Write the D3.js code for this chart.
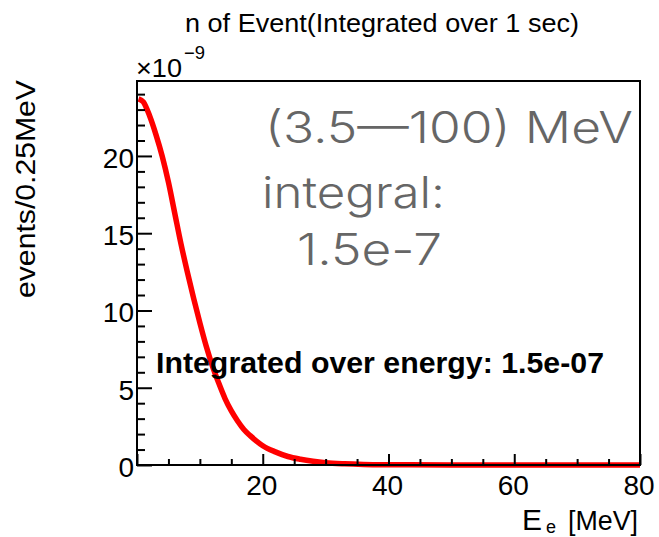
<!DOCTYPE html>
<html>
<head>
<meta charset="utf-8">
<script src="https://cdn.jsdelivr.net/npm/d3@7"></script>
<style>
  html, body { margin: 0; padding: 0; background: #fff; }
  svg { display: block; }
  .lbl { font-family: "Liberation Sans", Arial, Helvetica, sans-serif; fill: #000; }
  .note { font-family: Inter, "Noto Sans", Lato, sans-serif; font-weight: 300; fill: #666; }
</style>
</head>
<body>
<svg id="chart" width="659" height="537"></svg>
<script>
// Electron energy spectrum, events per 0.25 MeV bin (units of 1e-9)
const energyMeV = [0.25, 1, 2, 3, 4, 5, 6, 7, 8, 9, 10, 11, 12, 13, 14, 15, 16, 17, 18, 19, 20,
                   22, 24, 26, 28, 30, 33, 36, 40, 50, 60, 80];
const eventsPerBin = [23.7, 23.5, 22.6, 21.4, 20.0, 18.3, 16.3, 14.3, 12.5, 10.8, 9.2, 7.7, 6.4, 5.3, 4.3, 3.5, 2.85, 2.3, 1.9, 1.55, 1.25,
                      0.85, 0.55, 0.37, 0.24, 0.15, 0.08, 0.04, 0.02, 0.005, 0.001, 0];

const xTickValues = [20, 40, 60, 80];
const yTickValues = [0, 5, 10, 15, 20];
const xDomain = [0, 80];
const yDomain = [0, 24.85];

const titleText = "n of Event(Integrated over 1 sec)";
const yTitleText = "events/0.25MeV";
const noteLines = ["(3.5\u2014100) MeV", "integral:", "1.5e-7"];
const integralText = "Integrated over energy: 1.5e-07";

const svg = d3.select("#chart");
const frame = { left: 137, right: 640, top: 81, bottom: 465 };

const x = d3.scaleLinear().domain(xDomain).range([frame.left, frame.right]);
const y = d3.scaleLinear().domain(yDomain).range([frame.bottom, frame.top]);

svg.append("rect").attr("width", 659).attr("height", 537).attr("fill", "#fff");

// Spectrum curve
const line = d3.line()
  .x((d, i) => x(energyMeV[i]))
  .y(d => y(d))
  .curve(d3.curveMonotoneX);

svg.append("path")
  .datum(eventsPerBin)
  .attr("d", line)
  .attr("fill", "none")
  .attr("stroke", "#ff0000")
  .attr("stroke-width", 5.5)
  .attr("stroke-linejoin", "round");

// Grey annotation block
const notes = svg.append("g").attr("class", "note").attr("font-size", 43);
const notePos = [
  { x: 265, y: 143, w: 368 },
  { x: 262, y: 208, w: 183 },
  { x: 297, y: 265, w: 145 }
];
noteLines.forEach((t, i) => {
  notes.append("text")
    .attr("x", notePos[i].x).attr("y", notePos[i].y)
    .attr("textLength", notePos[i].w)
    .attr("lengthAdjust", "spacingAndGlyphs")
    .text(t);
});

// Bold integral statement
svg.append("text")
  .attr("class", "lbl")
  .attr("x", 156).attr("y", 373)
  .attr("font-size", 30).attr("font-weight", "bold")
  .attr("textLength", 448).attr("lengthAdjust", "spacingAndGlyphs")
  .text(integralText);

// Axes (ticks drawn inward)
const xAxis = d3.axisTop(x)
  .tickValues(d3.range(0, 80.001, 5))
  .tickSize(6).tickFormat("");
const gx = svg.append("g").attr("transform", `translate(0,${frame.bottom})`).call(xAxis);
gx.selectAll(".tick line")
  .attr("y2", d => (d % 20 === 0 ? -11 : -6))
  .attr("stroke", "#000").attr("stroke-width", 2);
gx.select(".domain").remove();

const yAxis = d3.axisRight(y)
  .tickValues(d3.range(0, 24.001, 1))
  .tickSize(8).tickFormat("");
const gy = svg.append("g").attr("transform", `translate(${frame.left},0)`).call(yAxis);
gy.selectAll(".tick line")
  .attr("x2", d => (d % 5 === 0 ? 15 : 8))
  .attr("stroke", "#000").attr("stroke-width", 2);
gy.select(".domain").remove();

// Frame
svg.append("rect")
  .attr("x", frame.left).attr("y", frame.top)
  .attr("width", frame.right - frame.left).attr("height", frame.bottom - frame.top)
  .attr("fill", "none").attr("stroke", "#000").attr("stroke-width", 2);

// Tick labels
svg.append("g").attr("class", "lbl").attr("font-size", 28)
  .selectAll("text").data(xTickValues).join("text")
  .attr("x", d => x(d) - 1).attr("y", 495)
  .attr("text-anchor", "middle")
  .text(d => d);

svg.append("g").attr("class", "lbl").attr("font-size", 28)
  .selectAll("text").data(yTickValues).join("text")
  .attr("x", 134).attr("y", d => y(d) + 12)
  .attr("text-anchor", "end")
  .text(d => d);

// Exponent marker
svg.append("text").attr("class", "lbl")
  .attr("x", 136).attr("y", 77).attr("font-size", 25)
  .attr("textLength", 46).attr("lengthAdjust", "spacingAndGlyphs")
  .text("\u00d710");
svg.append("text").attr("class", "lbl")
  .attr("x", 184).attr("y", 59).attr("font-size", 18)
  .attr("textLength", 21).attr("lengthAdjust", "spacingAndGlyphs")
  .text("\u22129");

// Title
svg.append("text").attr("class", "lbl")
  .attr("x", 185).attr("y", 32).attr("font-size", 26)
  .attr("textLength", 394).attr("lengthAdjust", "spacingAndGlyphs")
  .text(titleText);

// Axis titles
svg.append("text").attr("class", "lbl")
  .attr("transform", "translate(35,80) rotate(-90)")
  .attr("text-anchor", "end").attr("font-size", 27)
  .attr("textLength", 218).attr("lengthAdjust", "spacingAndGlyphs")
  .text(yTitleText);

const xt = svg.append("g").attr("class", "lbl");
xt.append("text").attr("x", 522).attr("y", 530).attr("font-size", 30).text("E");
xt.append("text").attr("x", 546).attr("y", 533).attr("font-size", 18).text("e");
xt.append("text").attr("x", 568).attr("y", 530).attr("font-size", 28)
  .attr("textLength", 70).attr("lengthAdjust", "spacingAndGlyphs")
  .text("[MeV]");
</script>
</body>
</html>
